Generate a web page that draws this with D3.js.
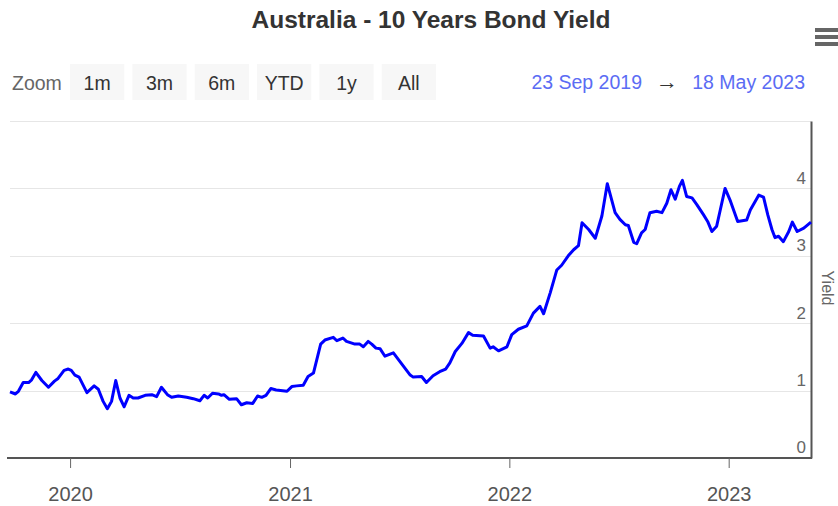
<!DOCTYPE html>
<html>
<head>
<meta charset="utf-8">
<script src="https://cdn.jsdelivr.net/npm/d3@7"></script>
<style>
  body { margin: 0; background: #fff; font-family: "Liberation Sans", Arial, sans-serif; }
</style>
</head>
<body>
<div id="chart"></div>
<script>
var title = "Australia - 10 Years Bond Yield";
var zoomButtons = ["1m", "3m", "6m", "YTD", "1y", "All"];
var rangeFrom = "23 Sep 2019", rangeTo = "18 May 2023";
var yTicks = [0, 1, 2, 3, 4];
var xTickYears = ["2020", "2021", "2022", "2023"];

// weekly-ish readings
var dates = [
  "2019-09-23","2019-10-02","2019-10-07","2019-10-15","2019-10-24","2019-10-29","2019-11-05","2019-11-15",
  "2019-11-26","2019-12-06","2019-12-12","2019-12-22","2019-12-29","2020-01-03","2020-01-09","2020-01-16",
  "2020-01-29","2020-02-10","2020-02-17","2020-02-25","2020-03-03","2020-03-10","2020-03-17","2020-03-24",
  "2020-03-31","2020-04-08","2020-04-15","2020-04-23","2020-05-05","2020-05-16","2020-05-24","2020-06-01",
  "2020-06-11","2020-06-18","2020-06-29","2020-07-13","2020-07-24","2020-08-04","2020-08-11","2020-08-17",
  "2020-08-25","2020-09-04","2020-09-09","2020-09-13","2020-09-22","2020-10-04","2020-10-12","2020-10-21",
  "2020-10-31","2020-11-08","2020-11-15","2020-11-22","2020-11-30","2020-12-09","2020-12-27","2021-01-04",
  "2021-01-12","2021-01-23","2021-01-31","2021-02-09","2021-02-21","2021-02-28","2021-03-14","2021-03-20",
  "2021-03-30","2021-04-05","2021-04-19","2021-04-27","2021-05-03","2021-05-11","2021-05-17","2021-05-24",
  "2021-05-31","2021-06-08","2021-06-22","2021-07-03","2021-07-20","2021-07-25","2021-08-08","2021-08-16",
  "2021-08-27","2021-09-07","2021-09-17","2021-09-24","2021-10-03","2021-10-14","2021-10-25","2021-11-01",
  "2021-11-19","2021-11-30","2021-12-05","2021-12-14","2021-12-28","2022-01-05","2022-01-16","2022-01-30",
  "2022-02-10","2022-02-21","2022-02-27","2022-03-10","2022-03-21","2022-03-29","2022-04-09","2022-04-18",
  "2022-04-26","2022-05-02","2022-05-13","2022-05-24","2022-06-04","2022-06-13","2022-06-26","2022-07-04",
  "2022-07-13","2022-07-18","2022-07-27","2022-08-01","2022-08-09","2022-08-15","2022-08-23","2022-09-03",
  "2022-09-12","2022-09-20","2022-09-27","2022-10-04","2022-10-11","2022-10-16","2022-10-23","2022-11-01",
  "2022-11-09","2022-11-20","2022-11-27","2022-12-04","2022-12-12","2022-12-18","2022-12-26","2023-01-04",
  "2023-01-16","2023-01-31","2023-02-06","2023-02-20","2023-02-28","2023-03-07","2023-03-14","2023-03-19",
  "2023-03-25","2023-04-02","2023-04-11","2023-04-17","2023-04-25","2023-05-06","2023-05-18"
];
var yields = [
  0.98,0.95,0.99,1.12,1.12,1.16,1.27,1.15,
  1.05,1.14,1.18,1.30,1.32,1.30,1.23,1.20,
  0.97,1.07,1.02,0.84,0.73,0.84,1.15,0.89,
  0.76,0.93,0.89,0.89,0.93,0.94,0.91,1.05,
  0.94,0.90,0.92,0.90,0.88,0.85,0.93,0.89,
  0.96,0.95,0.93,0.94,0.87,0.88,0.79,0.82,
  0.81,0.92,0.90,0.93,1.03,1.01,0.99,1.06,
  1.07,1.08,1.21,1.26,1.69,1.75,1.79,1.74,
  1.78,1.73,1.69,1.69,1.65,1.73,1.69,1.63,
  1.62,1.51,1.56,1.43,1.23,1.20,1.21,1.12,
  1.22,1.28,1.32,1.41,1.58,1.70,1.86,1.82,
  1.81,1.63,1.65,1.59,1.65,1.83,1.91,1.96,
  2.15,2.25,2.14,2.45,2.79,2.86,3.00,3.09,
  3.15,3.49,3.39,3.26,3.59,4.07,3.64,3.54,
  3.46,3.45,3.20,3.18,3.34,3.39,3.64,3.66,
  3.64,3.78,3.98,3.84,4.03,4.12,3.88,3.86,
  3.76,3.61,3.51,3.36,3.44,3.68,4.00,3.81,
  3.51,3.53,3.68,3.90,3.87,3.61,3.39,3.27,
  3.29,3.21,3.36,3.50,3.36,3.41,3.50
];

var width = 838, height = 506;
var margin = {top: 121, right: 27, bottom: 48, left: 10};
var parse = d3.timeParse("%Y-%m-%d");
var data = dates.map(function (d, i) { return {date: parse(d), value: yields[i]}; });

var svg = d3.select("#chart").append("svg")
    .attr("width", width)
    .attr("height", height);

var x = d3.scaleTime()
    .domain([parse("2019-09-23"), parse("2023-05-18")])
    .range([margin.left, width - margin.right]);
var y = d3.scaleLinear()
    .domain([0, 5])
    .range([height - margin.bottom, margin.top]);

// title
svg.append("text")
    .attr("x", 431).attr("y", 28)
    .attr("text-anchor", "middle")
    .style("font-size", "24.5px").style("font-weight", "bold").style("fill", "#333")
    .text(title);

// hamburger
[0, 1, 2].forEach(function (i) {
  svg.append("rect")
      .attr("x", 815).attr("y", 28 + i * 7)
      .attr("width", 30).attr("height", 4)
      .attr("fill", "#666");
});

// range selector
svg.append("text")
    .attr("x", 12).attr("y", 90)
    .style("font-size", "19.5px").style("fill", "#666")
    .text("Zoom");
var btnX = d3.scaleBand().domain(zoomButtons).range([70, 436]).paddingInner(0.13).paddingOuter(0);
var btn = svg.selectAll(".btn").data(zoomButtons).enter().append("g").attr("class", "btn");
btn.append("rect")
    .attr("x", function (d) { return btnX(d); })
    .attr("y", 64)
    .attr("width", btnX.bandwidth())
    .attr("height", 36)
    .attr("fill", "#f7f7f7");
btn.append("text")
    .attr("x", function (d) { return btnX(d) + btnX.bandwidth() / 2; })
    .attr("y", 90)
    .attr("text-anchor", "middle")
    .style("font-size", "19.5px").style("fill", "#333")
    .text(function (d) { return d; });

var rangeColor = "#5b6cf4";
svg.append("text").attr("x", 642).attr("y", 89).attr("text-anchor", "end")
    .style("font-size", "19.5px").style("fill", rangeColor).text(rangeFrom);
svg.append("text").attr("x", 667).attr("y", 89).attr("text-anchor", "middle")
    .style("font-size", "22px").style("fill", "#333").text("\u2192");
svg.append("text").attr("x", 805).attr("y", 89).attr("text-anchor", "end")
    .style("font-size", "19.5px").style("fill", rangeColor).text(rangeTo);

// gridlines
svg.append("g").selectAll("line")
    .data([1, 2, 3, 4, 5])
  .enter().append("line")
    .attr("x1", margin.left).attr("x2", width - margin.right)
    .attr("y1", function (d) { return Math.round(y(d)) + 0.5; })
    .attr("y2", function (d) { return Math.round(y(d)) + 0.5; })
    .attr("stroke", "#e6e6e6");

// x axis
var xAxis = svg.append("g")
    .attr("transform", "translate(0," + (height - margin.bottom) + ")")
    .call(d3.axisBottom(x)
      .tickValues(xTickYears.map(function (d) { return parse(d + "-01-01"); }))
      .tickFormat(d3.timeFormat("%Y"))
      .tickSize(10).tickSizeOuter(0).tickPadding(19));
xAxis.select(".domain").attr("stroke", "#555").attr("stroke-width", 2)
    .attr("d", "M7,0H" + (width - margin.right + 1));
xAxis.selectAll(".tick line").attr("stroke", "#666");
xAxis.selectAll(".tick text")
    .style("font-size", "20px").style("fill", "#555")
    .style("font-family", "'Liberation Sans', Arial, sans-serif");

// y axis (right side, labels inside)
var yAxis = svg.append("g")
    .attr("transform", "translate(" + (width - margin.right) + ",0)")
    .call(d3.axisRight(y).tickValues(yTicks).tickFormat(d3.format("d")).tickSize(0).tickSizeOuter(0));
yAxis.select(".domain").attr("stroke", "#555").attr("stroke-width", 2);
yAxis.selectAll(".tick text")
    .attr("x", -5).attr("dy", "-0.3em")
    .attr("text-anchor", "end")
    .style("font-size", "17px").style("fill", "#666")
    .style("font-family", "'Liberation Sans', Arial, sans-serif");

svg.append("text")
    .attr("transform", "translate(822,288) rotate(90)")
    .attr("text-anchor", "middle")
    .style("font-size", "16px").style("fill", "#666")
    .text("Yield");

// series
var line = d3.line()
    .x(function (d) { return x(d.date); })
    .y(function (d) { return y(d.value); });
svg.append("path")
    .datum(data)
    .attr("fill", "none")
    .attr("stroke", "#0000ff")
    .attr("stroke-width", 3)
    .attr("stroke-linejoin", "round")
    .attr("d", line);
</script>
</body>
</html>
